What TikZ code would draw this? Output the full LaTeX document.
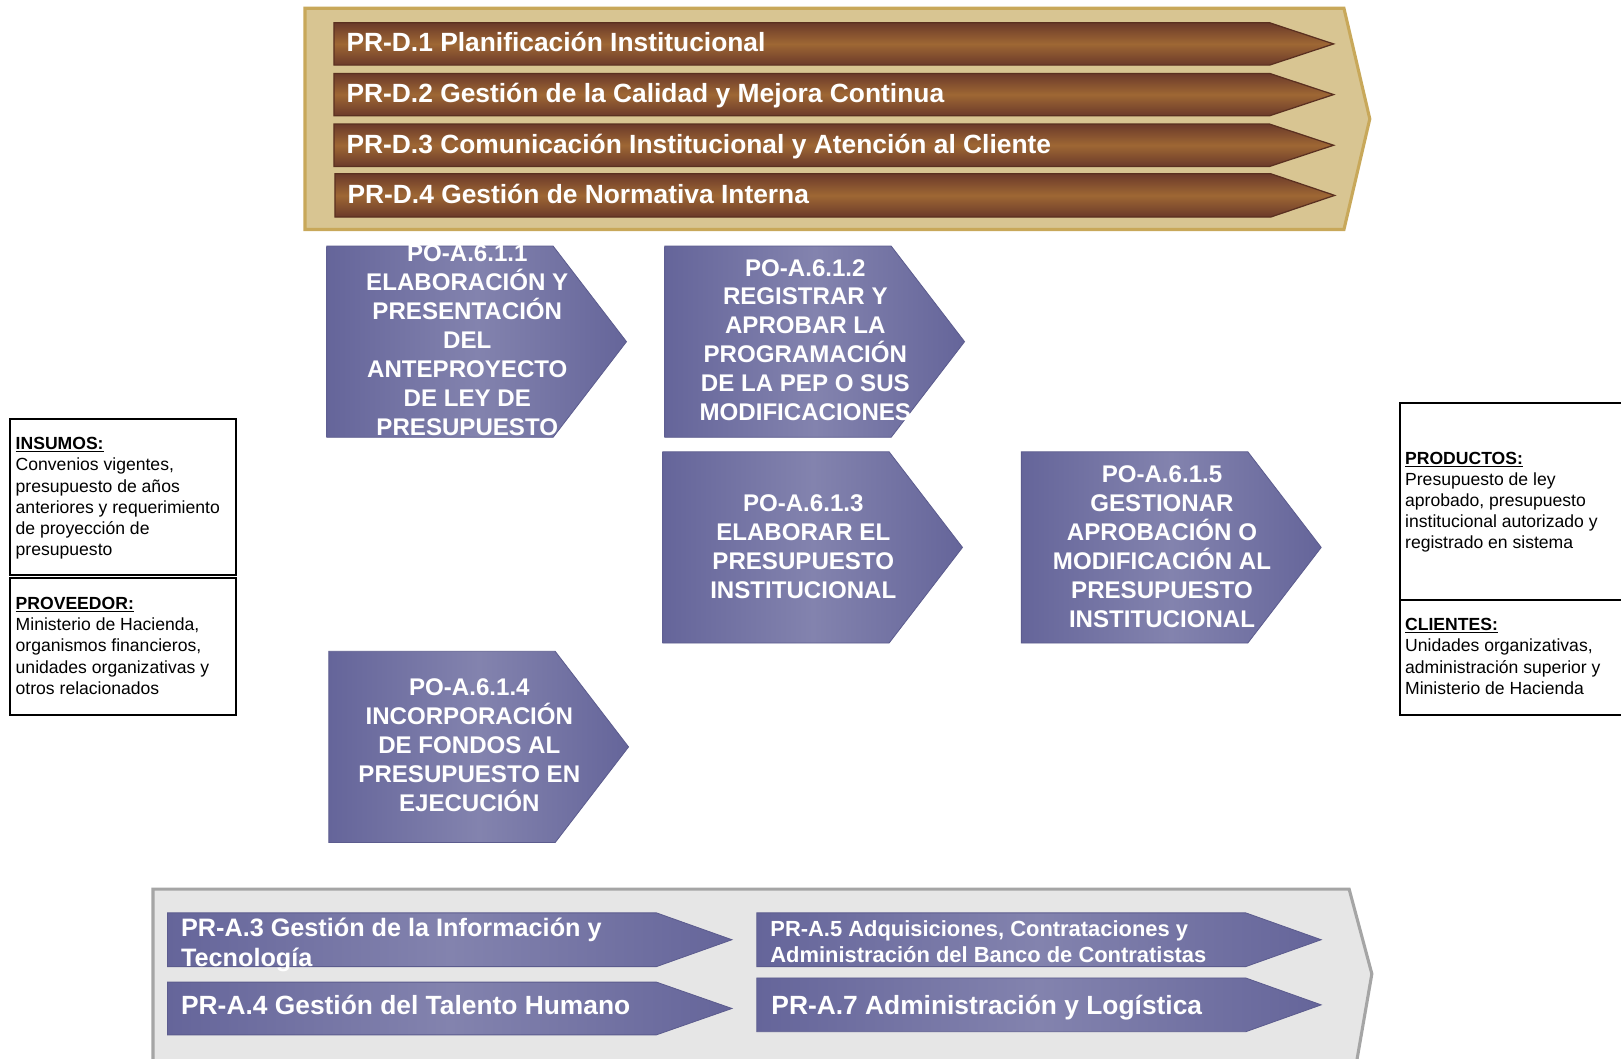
\documentclass[tikz,border=0pt]{standalone}
\usepackage{fontspec}
\setmainfont{Liberation Sans}
\definecolor{tanfill}{HTML}{D8C592}
\definecolor{tanedge}{HTML}{C8A85A}
\definecolor{brdark}{HTML}{6B3A2A}
\definecolor{brlight}{HTML}{9E6734}
\definecolor{brline}{HTML}{5A3020}
\definecolor{pudark}{HTML}{65659A}
\definecolor{pulight}{HTML}{8383AE}
\definecolor{puline}{HTML}{5C5C8E}
\definecolor{grayfill}{HTML}{E6E6E6}
\definecolor{grayedge}{HTML}{A5A5A5}
\newcommand{\chevpath}[5]{(#1,#2) -- (#3,#2) -- (#4,{(#2+#5)/2}) -- (#3,#5) -- (#1,#5) -- cycle}
\begin{document}
\begin{tikzpicture}[x=1pt,y=-1pt,
  tanpanel/.style={fill=tanfill, draw=tanedge, line width=3pt, line join=miter},
  graypanel/.style={fill=grayfill, draw=grayedge, line width=3pt, line join=miter},
  brownbar/.style={top color=brdark, bottom color=brdark, middle color=brlight, draw=brline, line width=1.2pt},
  purplechev/.style={left color=pudark, right color=pudark, middle color=pulight, draw=puline, line width=0.8pt},
  brtext/.style={text=white, font=\bfseries\fontsize{25.5}{29}\selectfont, anchor=base west, inner sep=0pt},
  patext/.style={text=white, font=\bfseries\fontsize{25.5}{29}\selectfont, anchor=base west, inner sep=0pt, align=left},
  pamid/.style={text=white, font=\bfseries\fontsize{24.4}{29}\selectfont, anchor=base west, inner sep=0pt, align=left},
  pasmall/.style={text=white, font=\bfseries\fontsize{21.2}{25}\selectfont, anchor=base west, inner sep=0pt, align=left},
  potext/.style={text=white, font=\bfseries\fontsize{23.3}{28}\selectfont, align=center, inner sep=0pt},
  infobox/.style={draw=black, line width=2pt},
  infotext/.style={font=\fontsize{17}{20.5}\selectfont, align=left, anchor=base west, inner sep=0pt},
]
\useasboundingbox (0,0) rectangle (1568,1024);
\clip (0,0) rectangle (1568,1024);
\fill[white] (0,0) rectangle (1568,1024);

% top panel
\path[tanpanel] (295,8) -- (1300,8) -- (1325,115) -- (1300,222) -- (295,222) -- cycle;
\path[brownbar] \chevpath{323}{22}{1228}{1290}{63};
\path[brownbar] \chevpath{323}{71}{1228}{1290}{112};
\path[brownbar] \chevpath{323}{120}{1228}{1290}{161};
\path[brownbar] \chevpath{324}{168}{1229}{1291}{210};
\node[brtext] (d1) at (335,50) {PR-D.1 Planificación Institucional};
\node[brtext] (d2) at (335,99) {PR-D.2 Gestión de la Calidad y Mejora Continua};
\node[brtext] (d3) at (335,148) {PR-D.3 Comunicación Institucional y Atención al Cliente};
\node[brtext] (d4) at (336,197) {PR-D.4 Gestión de Normativa Interna};

% operative chevrons
\path[purplechev] \chevpath{316}{238}{535}{606}{423};
\path[purplechev] \chevpath{643}{238}{862}{933}{423};
\path[purplechev] \chevpath{641}{437}{860}{931}{622};
\path[purplechev] \chevpath{988}{437}{1207}{1278}{622};
\path[purplechev] \chevpath{318}{630}{537}{608}{815};
\node[potext] (o1) at (452,329) {PO-A.6.1.1\\ELABORACIÓN Y\\PRESENTACIÓN\\DEL\\ANTEPROYECTO\\DE LEY DE\\PRESUPUESTO};
\node[potext] (o2) at (779,329) {PO-A.6.1.2\\REGISTRAR Y\\APROBAR LA\\PROGRAMACIÓN\\DE LA PEP O SUS\\MODIFICACIONES};
\node[potext] (o3) at (777,529) {PO-A.6.1.3\\ELABORAR EL\\PRESUPUESTO\\INSTITUCIONAL};
\node[potext] (o5) at (1124,529) {PO-A.6.1.5\\GESTIONAR\\APROBACIÓN O\\MODIFICACIÓN AL\\PRESUPUESTO\\INSTITUCIONAL};
\node[potext] (o4) at (454,721) {PO-A.6.1.4\\INCORPORACIÓN\\DE FONDOS AL\\PRESUPUESTO EN\\EJECUCIÓN};

% left info boxes
\draw[infobox] (10,405) rectangle (228,556);
\draw[infobox] (10,559) rectangle (228,692);
\node[infotext] (ins) at (15,537.5) {\textbf{\underline{INSUMOS:}}\\Convenios vigentes,\\presupuesto de años\\anteriores y requerimiento\\de proyección de\\presupuesto};
\node[infotext] (prov) at (15,671.5) {\textbf{\underline{PROVEEDOR:}}\\Ministerio de Hacienda,\\organismos financieros,\\unidades organizativas y\\otros relacionados};

% right info boxes
\draw[infobox] (1354,390) rectangle (1580,580);
\draw[infobox] (1354,580) rectangle (1580,692);
\node[infotext] (prod) at (1359,531) {\textbf{\underline{PRODUCTOS:}}\\Presupuesto de ley\\aprobado, presupuesto\\institucional autorizado y\\registrado en sistema};
\node[infotext] (cli) at (1359,671.5) {\textbf{\underline{CLIENTES:}}\\Unidades organizativas,\\administración superior y\\Ministerio de Hacienda};

% bottom panel
\path[graypanel] (148,860) -- (1305,860) -- (1327,942) -- (1310,1040) -- (148,1040) -- cycle;
\path[purplechev] \chevpath{162}{883}{635}{708}{935};
\path[purplechev] \chevpath{162}{950}{635}{708}{1001};
\path[purplechev] \chevpath{732}{883}{1205}{1278}{935};
\path[purplechev] \chevpath{732}{946}{1205}{1278}{998};
\node[pamid] (a3) at (175,935) {PR-A.3 Gestión de la Información y\\Tecnología};
\node[patext] (a4) at (175,981) {PR-A.4 Gestión del Talento Humano};
\node[pasmall] (a5) at (745,931) {PR-A.5 Adquisiciones, Contrataciones y\\Administración del Banco de Contratistas};
\node[patext] (a7) at (746,981) {PR-A.7 Administración y Logística};
\end{tikzpicture}
\end{document}
